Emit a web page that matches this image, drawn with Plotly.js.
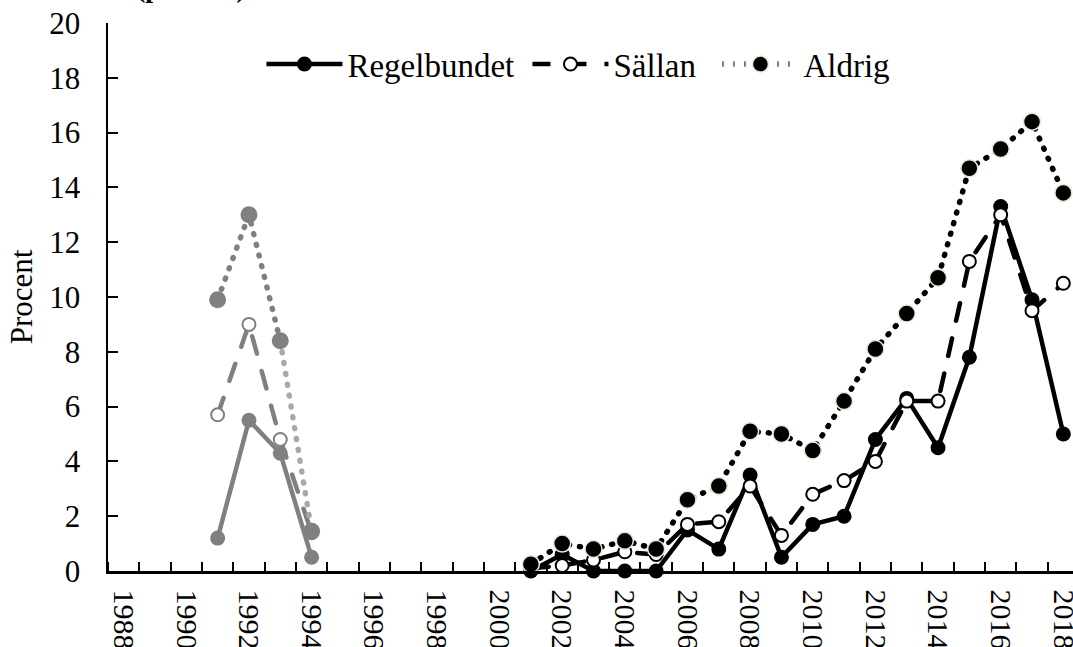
<!DOCTYPE html>
<html>
<head>
<meta charset="utf-8">
<script src="https://cdn.plot.ly/plotly-3.0.1.min.js"></script>
<style>
html, body { margin: 0; padding: 0; overflow: hidden; background: #fff; }
#chart { width: 1090px; height: 700px; }
.scatterlayer .js-line { stroke-linecap: round; stroke-linejoin: round; }
</style>
</head>
<body>
<div id="chart"></div>
<script>
// Early period (grey series)
const yearsEarly = [1991, 1992, 1993, 1994];
const regelbundetEarly = [1.2, 5.5, 4.3, 0.5];
const sallanEarly = [5.7, 9.0, 4.8, 1.4];
const aldrigEarly = [9.9, 13.0, 8.4, 1.45];

// Later period (black series)
const yearsLate = [2001, 2002, 2003, 2004, 2005, 2006, 2007, 2008, 2009, 2010, 2011, 2012, 2013, 2014, 2015, 2016, 2017, 2018];
const regelbundetLate = [0, 0.6, 0, 0, 0, 1.5, 0.8, 3.5, 0.5, 1.7, 2.0, 4.8, 6.3, 4.5, 7.8, 13.3, 9.9, 5.0];
const sallanLate = [0.1, 0.2, 0.4, 0.7, 0.6, 1.7, 1.8, 3.1, 1.3, 2.8, 3.3, 4.0, 6.2, 6.2, 11.3, 13.0, 9.5, 10.5];
const aldrigLate = [0.25, 1.0, 0.8, 1.1, 0.8, 2.6, 3.1, 5.1, 5.0, 4.4, 6.2, 8.1, 9.4, 10.7, 14.7, 15.4, 16.4, 13.8];

// Axis labels
const tickYears = [1988, 1990, 1992, 1994, 1996, 1998, 2000, 2002, 2004, 2006, 2008, 2010, 2012, 2014, 2016, 2018];
const tickLabels = tickYears.map(String);
const seriesNames = ['Regelbundet', 'Sällan', 'Aldrig'];
const yTitle = 'Procent';
const topTitle = '(procent)';

const FONT = 'Liberation Serif';
const GREY = '#808080';
const LIGHTGREY = '#a8a8a8';
const NB = '\u00a0';

const traces = [
  { x: yearsEarly, y: regelbundetEarly, name: seriesNames[0], showlegend: false,
    mode: 'lines+markers', line: { color: GREY, width: 4.5 },
    marker: { color: GREY, size: 15, line: { width: 0 } } },
  { x: yearsEarly, y: sallanEarly, name: seriesNames[1], showlegend: false,
    mode: 'lines+markers', line: { color: GREY, width: 4.5, dash: '18px,18px' },
    marker: { color: '#fff', size: 13, line: { color: GREY, width: 2 } } },
  { x: yearsEarly.slice(2), y: aldrigEarly.slice(2), name: seriesNames[2], showlegend: false,
    mode: 'lines', line: { color: LIGHTGREY, width: 5.5, dash: '1px,10px' } },
  { x: yearsEarly.slice(0, 3), y: aldrigEarly.slice(0, 3), name: seriesNames[2], showlegend: false,
    mode: 'lines', line: { color: GREY, width: 5.5, dash: '1px,10px' } },
  { x: yearsEarly, y: aldrigEarly, name: seriesNames[2], showlegend: false,
    mode: 'markers', marker: { color: GREY, size: 17, line: { width: 0 } } },
  { x: yearsLate, y: regelbundetLate, name: seriesNames[0] + NB,
    mode: 'lines+markers', line: { color: '#000', width: 4.5 },
    marker: { color: '#000', size: 15, line: { width: 0 } } },
  { x: yearsLate, y: sallanLate, name: seriesNames[1] + NB + NB,
    mode: 'lines+markers', line: { color: '#000', width: 4.5, dash: '18px,18px' },
    marker: { color: '#fff', size: 13, line: { color: '#000', width: 2 } } },
  { x: yearsLate, y: aldrigLate, name: seriesNames[2],
    mode: 'lines+markers', line: { color: '#000', width: 5.5, dash: '1px,10px' },
    marker: { color: '#000', size: 17, line: { color: '#ece6d2', width: 1.5 } } }
];
traces.forEach(t => { t.cliponaxis = false; });

const layout = {
  width: 1090, height: 700,
  margin: { l: 108, r: 11.4, t: 23.3, b: 129 },
  paper_bgcolor: '#fff', plot_bgcolor: '#fff',
  font: { family: FONT, size: 31, color: '#000' },
  showlegend: true,
  legend: { orientation: 'h', x: 0.158, xanchor: 'left', y: 0.925, yanchor: 'middle',
            font: { family: FONT, size: 33, color: '#000' }, itemwidth: 76, bgcolor: 'rgba(0,0,0,0)' },
  xaxis: {
    range: [1987.5, 2018.5], tickmode: 'array', tickvals: tickYears, ticktext: tickLabels,
    tickangle: 90, ticks: '', showgrid: false, zeroline: false,
    showline: true, linecolor: '#000', linewidth: 2.5,
    ticklabelstandoff: 10,
    tickfont: { family: FONT, size: 30, color: '#000' },
    minor: { tick0: 1987.5, dtick: 1, ticks: 'inside', ticklen: 9, tickwidth: 2, tickcolor: '#000', showgrid: false }
  },
  yaxis: {
    range: [0, 20], dtick: 2, tick0: 0, ticks: 'inside', ticklen: 10, tickwidth: 2, tickcolor: '#000',
    showgrid: false, zeroline: false, showline: true, linecolor: '#000', linewidth: 2.5,
    ticklabelstandoff: 19,
    tickfont: { family: FONT, size: 31, color: '#000' },
    title: { text: yTitle, font: { family: FONT, size: 31, color: '#000' }, standoff: 8 }
  },
  annotations: [
    { text: '<b>' + topTitle + '</b>', xref: 'paper', yref: 'paper', x: 0.0855, y: 1.033,
      xanchor: 'center', yanchor: 'bottom', showarrow: false,
      font: { family: FONT, size: 28, color: '#000' } }
  ]
};

Plotly.newPlot('chart', traces, layout, { displayModeBar: false, staticPlot: true });
</script>
</body>
</html>
